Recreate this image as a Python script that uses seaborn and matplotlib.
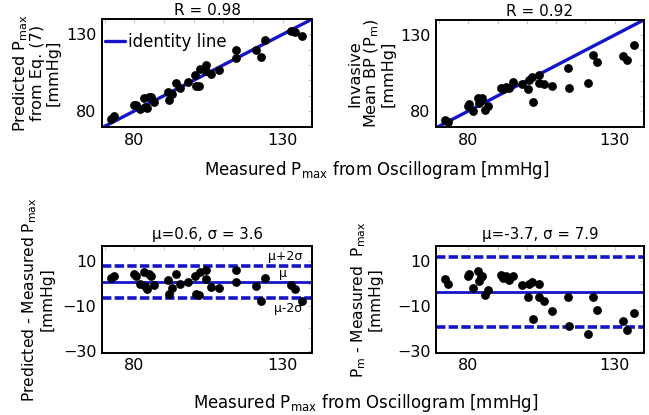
import numpy as np
import pandas as pd
import matplotlib
matplotlib.use("Agg")
import matplotlib.pyplot as plt
import seaborn as sns

# ---- data ----
measured = [72.0, 73.0, 79.8, 80.4, 81.7, 83.2, 83.7, 84.2, 84.8, 85.6, 86.6,
            91.2, 91.8, 92.8, 93.9, 95.3, 98.2, 100.3, 100.8, 101.8, 102.0,
            104.0, 104.3, 105.9, 108.7, 114.2, 114.4, 121.0, 122.6, 124.0,
            133.0, 134.1, 136.7]
predicted = [74.4, 76.5, 83.9, 83.8, 81.5, 88.4, 82.5, 81.6, 89.3, 89.0, 86.1,
             92.6, 87.3, 90.9, 98.0, 95.1, 98.7, 103.7, 96.3, 96.6, 107.2,
             106.1, 110.2, 104.3, 106.8, 120.1, 114.9, 120.1, 115.0, 126.4,
             132.2, 131.5, 129.1]
invasive = [74.2, 72.9, 83.4, 84.6, 79.9, 88.8, 85.0, 87.0, 88.3, 80.6, 83.6,
            95.1, 94.3, 96.0, 95.4, 98.9, 97.5, 94.2, 100.4, 102.6, 86.1,
            103.6, 98.4, 98.0, 96.4, 108.3, 95.3, 98.3, 116.7, 112.1,
            116.1, 113.3, 123.4]
r_values = [0.98, 0.92]
pred_mu, pred_sigma = 0.6, 3.6
inv_mu, inv_sigma = -3.7, 7.9

df = pd.DataFrame({"measured": measured, "predicted": predicted, "invasive": invasive})
df["pred_diff"] = df["predicted"] - df["measured"]
df["inv_diff"] = df["invasive"] - df["measured"]

# ---- style ----
sns.set_style("white")
plt.rcParams["font.family"] = ["DejaVu Sans"]
plt.rcParams["mathtext.fontset"] = "dejavusans"
plt.rcParams["text.color"] = "black"
plt.rcParams["axes.labelcolor"] = "black"
plt.rcParams["axes.titlecolor"] = "black"
BLUE = "#1414c8"

fig = plt.figure(figsize=(6.49, 4.15), dpi=100)
ax_tl = fig.add_axes([0.157, 0.694, 0.324, 0.260])
ax_tr = fig.add_axes([0.672, 0.694, 0.320, 0.258])
ax_bl = fig.add_axes([0.157, 0.150, 0.324, 0.257])
ax_br = fig.add_axes([0.672, 0.150, 0.320, 0.257])

XLIM = (69.0, 139.5)


def style_axes(ax, yticks, yminor, ylim):
    ax.set_xlim(*XLIM)
    ax.set_ylim(*ylim)
    ax.set_xticks([80, 130])
    ax.set_xticks(np.arange(70, 141, 10), minor=True)
    ax.set_yticks(yticks)
    ax.set_yticks(yminor, minor=True)
    ax.tick_params(which="both", direction="in", color="#c8c8c8", length=3,
                   width=0.8, top=True, right=True, labelsize=11.5, pad=4,
                   labelcolor="black")
    for s in ax.spines.values():
        s.set_color("black")
        s.set_linewidth(1.4)
    ax.set_xlabel("")
    ax.set_ylabel("")


# ---- top panels ----
for ax, ycol, r, ylab, lab, lp in [
    (ax_tl, "predicted", r_values[0], "Predicted P$_{\\mathregular{max}}$\nfrom Eq. (7)\n[mmHg]", "identity line", 4),
    (ax_tr, "invasive", r_values[1], "Invasive\nMean BP (P$_{\\mathregular{m}}$)\n[mmHg]", "_nolegend_", 3),
]:
    lo, hi = 69.0, 140.0
    ax.plot([lo, hi], [lo, hi], color=BLUE, lw=2.4, label=lab, zorder=1)
    sns.scatterplot(data=df, x="measured", y=ycol, ax=ax, color="black",
                    s=40, edgecolor="black", linewidth=0, zorder=3, legend=False)
    style_axes(ax, [80, 130], np.arange(70, 141, 10), (69.5, 140.0))
    ax.set_title(f"R = {r:.2f}", fontsize=11, pad=3)
    ax.set_ylabel(ylab, fontsize=11.6, linespacing=1.0, labelpad=lp)

if ax_tr.get_legend() is not None:
    ax_tr.get_legend().remove()
ax_tl.legend(loc="upper left", bbox_to_anchor=(0.0, 0.905), frameon=False,
             fontsize=12, handlelength=1.2, handletextpad=0.15,
             borderaxespad=0.0, borderpad=0.2)

# ---- bottom panels ----
for ax, ycol, mu, sd, ylab, lp in [
    (ax_bl, "pred_diff", pred_mu, pred_sigma, "Predicted - Measured P$_{\\mathregular{max}}$\n[mmHg]", 6),
    (ax_br, "inv_diff", inv_mu, inv_sigma, "P$_{\\mathregular{m}}$ - Measured  P$_{\\mathregular{max}}$\n[mmHg]", 10),
]:
    ax.axhline(mu, color=BLUE, lw=2.0, zorder=1)
    ax.axhline(mu + 2 * sd, color=BLUE, lw=2.6, ls=(0, (2.6, 0.9)), zorder=1)
    ax.axhline(mu - 2 * sd, color=BLUE, lw=2.6, ls=(0, (2.6, 0.9)), zorder=1)
    sns.scatterplot(data=df, x="measured", y=ycol, ax=ax, color="black",
                    s=40, edgecolor="black", linewidth=0, zorder=3, legend=False)
    style_axes(ax, [10, -10, -30], np.arange(-30, 11, 10), (-31.0, 16.8))
    ax.set_title(f"\u03bc={mu}, \u03c3 = {sd}", fontsize=10.8, pad=5)
    ax.set_ylabel(ylab, fontsize=11.2, linespacing=1.0, labelpad=lp)

# annotations of reference lines (left bottom panel)
tr = ax_bl.get_yaxis_transform()
ax_bl.text(0.955, pred_mu + 2 * pred_sigma + 1.2, "\u03bc+2\u03c3", transform=tr,
           ha="right", va="bottom", fontsize=9)
ax_bl.text(0.862, pred_mu + 1.2, "\u03bc", transform=tr,
           ha="center", va="bottom", fontsize=9)
ax_bl.text(0.955, pred_mu - 2 * pred_sigma - 1.5, "\u03bc-2\u03c3", transform=tr,
           ha="right", va="top", fontsize=9)

# shared x labels
xl = "Measured P$_{\\mathregular{max}}$ from Oscillogram [mmHg]"
fig.text(0.580, 0.590, xl, ha="center", va="center", fontsize=12)
fig.text(0.563, 0.028, xl, ha="center", va="center", fontsize=12)

fig.savefig("out.png", dpi=100)
